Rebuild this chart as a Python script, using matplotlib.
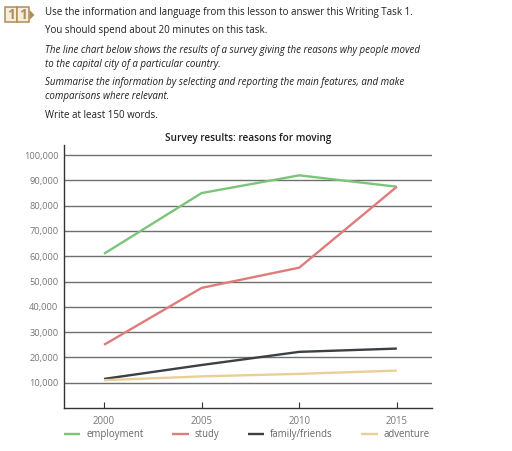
"""Line chart: survey results, reasons for moving to the capital city."""
import matplotlib
matplotlib.use("Agg")
import matplotlib.pyplot as plt
import matplotlib.ticker as tkr
from matplotlib.patches import Rectangle, Polygon

years = [2000, 2005, 2010, 2015]
employment = [61000, 85000, 92000, 87500]
study = [25000, 47500, 55500, 87500]
family = [11500, 17000, 22200, 23500]
adventure = [11000, 12500, 13500, 14800]

series_names = ['employment', 'study', 'family/friends', 'adventure']
series_colors = ['#7cc47a', '#e07b7b', '#3b4045', '#e9cf96']
y_ticks = [10000, 20000, 30000, 40000, 50000, 60000, 70000, 80000, 90000, 100000]

plt.rcParams['font.family'] = ['Open Sans', 'DejaVu Sans']

fig = plt.figure(figsize=(5.12, 4.51), dpi=100)

# header text
txt = '#1f1f1f'
fs = 7.05
fig.text(45/512, 1-12/451, 'Use the information and language from this lesson to answer this Writing Task 1.',
         fontsize=fs, color=txt, va='center', ha='left')
fig.text(45/512, 1-31/451, 'You should spend about 20 minutes on this task.',
         fontsize=fs, color=txt, va='center', ha='left')
fig.text(45/512, 1-50/451, 'The line chart below shows the results of a survey giving the reasons why people moved',
         fontsize=fs, color=txt, va='center', ha='left', style='italic')
fig.text(45/512, 1-64/451, 'to the capital city of a particular country.',
         fontsize=fs, color=txt, va='center', ha='left', style='italic')
fig.text(45/512, 1-82/451, 'Summarise the information by selecting and reporting the main features, and make',
         fontsize=fs, color=txt, va='center', ha='left', style='italic')
fig.text(45/512, 1-96/451, 'comparisons where relevant.',
         fontsize=fs, color=txt, va='center', ha='left', style='italic')
fig.text(45/512, 1-115/451, 'Write at least 150 words.',
         fontsize=fs, color=txt, va='center', ha='left')

# "11" badge
tan = '#b08c5a'
for x0 in [5, 17]:
    fig.patches.append(Rectangle((x0/512, 1-22/451), 11.5/512, 15/451, transform=fig.transFigure,
                                 facecolor='#f5eedf', edgecolor=tan, linewidth=1.1))
    fig.text((x0+5.8)/512, 1-14.8/451, '1', fontsize=10, fontweight='bold', color=tan,
             ha='center', va='center')
fig.patches.append(Polygon([(29.5/512, 1-10/451), (29.5/512, 1-20/451), (34.5/512, 1-15/451)],
                           closed=True, transform=fig.transFigure, facecolor=tan, edgecolor='none'))

# chart
ax = fig.add_axes([64/512, 1-408/451, 368/512, 263/451])
data = [employment, study, family, adventure]
for vals, name, col in zip(data, series_names, series_colors):
    ax.plot(years, vals, color=col, linewidth=1.7, label=name, solid_capstyle='butt')

ax.set_xlim(1997.95, 2016.8)
ax.set_ylim(0, 104000)
ax.set_yticks(y_ticks)
ax.yaxis.set_major_formatter(tkr.FuncFormatter(lambda v, p: f'{int(v):,}'))
ax.set_xticks(years)
ax.grid(axis='y', color='#6f7070', linewidth=1.0)
ax.set_axisbelow(True)
for s in ['top', 'right']:
    ax.spines[s].set_visible(False)
for s in ['left', 'bottom']:
    ax.spines[s].set_color('#333333')
    ax.spines[s].set_linewidth(1.0)
ax.tick_params(axis='y', length=0, labelsize=6.7, labelcolor='#777777', pad=4)
ax.tick_params(axis='x', direction='in', length=4, color='#333333', labelsize=6.9,
               labelcolor='#777777', pad=6)

ax.set_title('Survey results: reasons for moving', fontsize=7.2, color='#1f1f1f', pad=3,
             fontweight='semibold')

ax.legend(loc='upper left', bbox_to_anchor=(-0.01, -0.065), ncol=4, frameon=False,
          fontsize=6.9, labelcolor='#666666', handlelength=1.7, handletextpad=0.6,
          columnspacing=3.0, borderaxespad=0)

fig.savefig('out.png', dpi=100)
